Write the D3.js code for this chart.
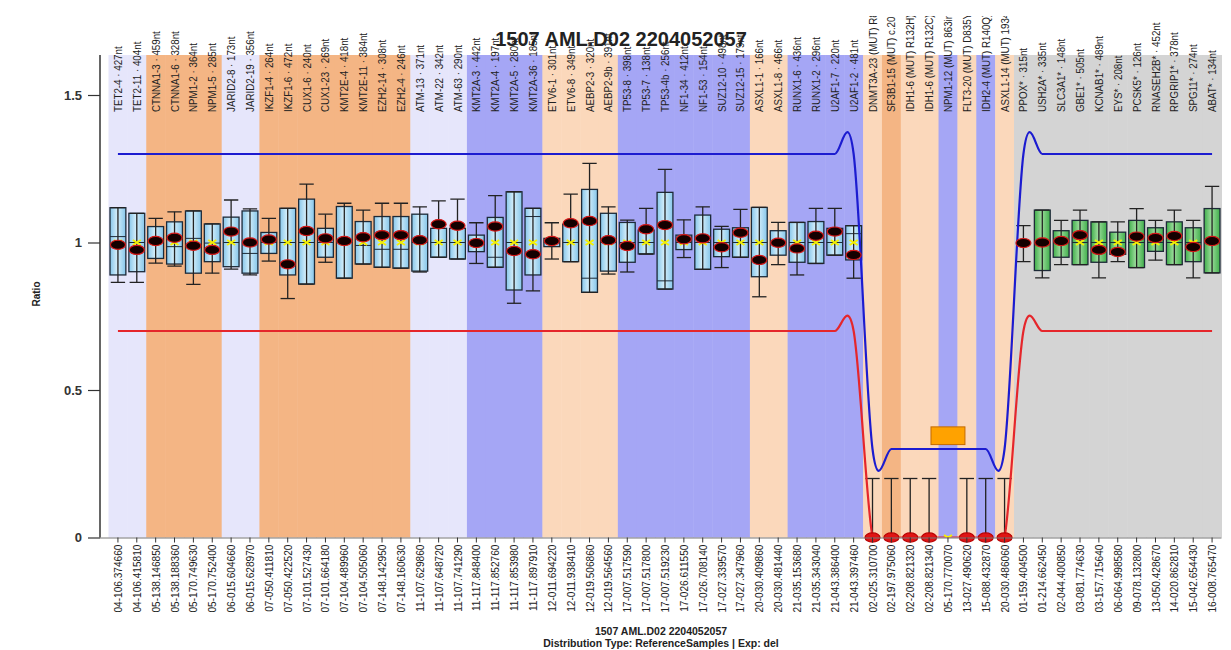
<!DOCTYPE html>
<html>
<head>
<meta charset="utf-8">
<script src="https://cdn.jsdelivr.net/npm/d3@7"></script>
<style>
  html, body { margin: 0; padding: 0; background: #fff; }
  svg { display: block; font-family: "Liberation Sans", Arial, sans-serif; }
</style>
</head>
<body>
<svg id="chart" width="1231" height="650"></svg>
<script>
// Probe positions (chromosome-position), one per amplicon
const categories = [
  "04-106.374660","04-106.415810","05-138.146850","05-138.188360","05-170.749630","05-170.752400",
  "06-015.604660","06-015.628970","07-050.411810","07-050.422520","07-101.527430","07-101.664180",
  "07-104.489960","07-104.505060","07-148.142950","07-148.160630","11-107.629860","11-107.648720",
  "11-107.741290","11-117.848400","11-117.852760","11-117.853980","11-117.897910","12-011.694220",
  "12-011.938410","12-019.506860","12-019.564560","17-007.517590","17-007.517800","17-007.519230",
  "17-026.611550","17-026.708140","17-027.339570","17-027.347960","20-030.409860","20-030.481440",
  "21-035.153680","21-035.343040","21-043.386400","21-043.397460","02-025.310700","02-197.975060",
  "02-208.821320","02-208.821340","05-170.770070","13-027.490620","15-088.432870","20-030.486060",
  "01-159.404500","01-214.662450","02-044.400850","03-081.774630","03-157.715640","06-064.998580",
  "09-078.132800","13-050.428670","14-020.862810","15-042.654430","16-008.765470"
];

// Probe names shown above the plot
const probeNames = [
  "TET2-4 · 427nt","TET2-11 · 404nt","CTNNA1-3 · 459nt","CTNNA1-6 · 328nt","NPM1-2 · 364nt","NPM1-5 · 285nt",
  "JARID2-8 · 173nt","JARID2-19 · 356nt","IKZF1-4 · 264nt","IKZF1-6 · 472nt","CUX1-6 · 240nt","CUX1-23 · 269nt",
  "KMT2E-4 · 418nt","KMT2E-11 · 384nt","EZH2-14 · 308nt","EZH2-4 · 246nt","ATM-13 · 371nt","ATM-22 · 342nt",
  "ATM-63 · 290nt","KMT2A-3 · 442nt","KMT2A-4 · 197nt","KMT2A-5 · 280nt","KMT2A-36 · 185nt","ETV6-1 · 301nt",
  "ETV6-8 · 349nt","AEBP2-3 · 320nt","AEBP2-9b · 391nt","TP53-8 · 398nt","TP53-7 · 138nt","TP53-4b · 256nt",
  "NF1-34 · 412nt","NF1-53 · 154nt","SUZ12-10 · 498nt","SUZ12-15 · 179nt","ASXL1-1 · 166nt","ASXL1-8 · 466nt",
  "RUNX1-6 · 436nt","RUNX1-2 · 296nt","U2AF1-7 · 220nt","U2AF1-2 · 481nt","DNMT3A-23 (MUT) R88","SF3B1-15 (MUT) c.2098",
  "IDH1-6 (MUT) R132H) -","IDH1-6 (MUT) R132C) -","NPM1-12 (MUT) 863ins","FLT3-20 (MUT) D835Y)","IDH2-4 (MUT) R140Q) -","ASXL1-14 (MUT) 1934d",
  "PPOX* · 315nt","USH2A* · 335nt","SLC3A1* · 148nt","GBE1* · 505nt","KCNAB1* · 489nt","EYS* · 208nt",
  "PCSK5* · 126nt","RNASEH2B* · 452nt","RPGRIP1* · 378nt","SPG11* · 274nt","ABAT* · 134nt"
];

// Background group of each probe
const bandGroup = [
  "lav","lav","org","org","org","org","lav","lav","org","org","org","org","org","org","org","org",
  "lav","lav","lav","blu","blu","blu","blu","pch","pch","pch","pch","blu","blu","blu","blu","blu","blu","blu",
  "pch","pch","blu","blu","blu","blu","pch","org","pch","pch","blu","pch","blu","pch",
  "gry","gry","gry","gry","gry","gry","gry","gry","gry","gry","gry"
];

// Reference sample distribution per probe (null = no box)
const whiskerLow = [
  0.865,0.865,0.93,0.92,0.858,0.896,0.91,0.89,0.937,0.81,0.859,0.933,0.879,0.927,0.916,0.913,
  0.90,0.95,0.944,0.929,0.916,0.794,0.836,0.944,0.935,0.831,0.893,0.90,0.961,0.842,0.949,0.909,0.915,0.95,
  0.816,0.925,0.89,0.929,0.957,0.879,0,0,0,0,null,0,0,0,
  0.935,0.88,0.925,0.925,0.88,0.935,0.915,0.94,0.925,0.88,0.897
];
const boxLow = [
  0.89,0.901,0.946,0.927,0.896,0.935,0.918,0.896,0.963,0.89,0.859,0.95,0.879,0.927,0.916,0.913,
  0.903,0.95,0.944,0.969,0.916,0.839,0.89,0.986,0.935,0.831,0.903,0.933,0.961,0.842,0.976,0.909,0.952,0.95,
  0.884,0.957,0.933,0.929,0.957,0.941,null,null,null,null,null,null,null,null,
  null,0.905,0.95,0.925,0.933,0.96,0.915,0.97,0.925,0.935,0.897
];
const boxMedian = [
  1.02,1.0,1.01,0.986,1.014,0.998,1.0,0.963,1.0,1.0,1.0,1.0,1.0,0.99,0.977,0.977,
  1.0,1.0,1.0,1.0,0.95,1.0,1.088,1.0,1.0,0.879,1.0,1.0,1.0,0.87,1.0,1.0,1.0,1.0,
  1.0,1.0,1.0,1.0,1.0,1.03,null,null,null,null,null,null,null,null,
  null,1.0,1.0,1.0,1.0,1.0,1.0,1.0,1.0,1.0,1.0
];
const boxHigh = [
  1.118,1.099,1.054,1.07,1.107,1.063,1.086,1.107,1.034,1.116,1.147,1.048,1.122,1.071,1.088,1.088,
  1.096,1.048,1.048,1.025,1.085,1.172,1.116,1.014,1.062,1.18,1.099,1.068,1.042,1.17,1.025,1.093,1.045,1.05,
  1.119,1.04,1.068,1.071,1.048,1.057,null,null,null,null,null,null,null,null,
  null,1.11,1.04,1.075,1.07,1.035,1.075,1.05,1.07,1.05,1.115
];
const whiskerHigh = [
  1.118,1.099,1.082,1.104,1.107,1.063,1.144,1.114,1.082,1.116,1.198,1.096,1.133,1.11,1.133,1.133,
  1.121,1.141,1.147,1.067,1.159,1.172,1.116,1.067,1.164,1.268,1.121,1.076,1.116,1.248,1.077,1.121,1.055,1.112,
  1.119,1.068,1.068,1.116,1.116,1.057,0.2,0.2,0.2,0.2,null,0.2,0.2,0.2,
  1.057,1.11,1.075,1.11,1.07,1.07,1.115,1.075,1.11,1.075,1.19
];
// Mean of the reference samples
const refMean = [
  1,1,1,1,1,1,1,1,1,1,1,1,1,1,1,1,1,1,1,1,1,1,1,1,1,1,1,1,1,1,1,1,1,1,1,1,1,1,1,1,
  0,0,0,0,0,0,0,0,
  1,1,1,1,1,1,1,1,1,1,1
];
// Ratio of the tested sample (null = not called)
const sampleRatio = [
  0.992,0.975,1.005,1.016,0.989,0.975,1.037,1.0,1.01,0.926,1.039,1.014,1.005,1.018,1.025,1.025,
  1.008,1.062,1.057,0.998,1.054,0.971,0.96,1.005,1.065,1.073,1.008,0.988,1.045,1.059,1.011,1.014,0.984,1.033,
  0.941,0.999,0.98,1.023,1.037,0.958,0,0,0,0,null,0,0,0,
  0.998,1.0,1.005,1.025,0.975,0.968,1.02,1.015,1.022,0.985,1.005
];
const isMutationProbe = categories.map((c, i) => i >= 40 && i <= 47);
const isReferenceProbe = categories.map((c, i) => i >= 48);

// Arbitration limits per probe
const upperLimit = categories.map((c, i) => isMutationProbe[i] ? 0.3 : 1.3);
const lowerLimit = categories.map((c, i) => isMutationProbe[i] ? 0 : 0.7);

// Highlighted range for the NPM1 insertion probe
const highlightProbe = ["05-170.770070"];
const highlightLow = [0.315];
const highlightHigh = [0.375];

const yTicks = [0, 0.5, 1, 1.5];

const bandColors = { lav: "#e6e6fb", org: "#f4b584", blu: "#a5a6f5", pch: "#fbd8bb", gry: "#d4d4d4" };

const svg = d3.select("#chart");
const plotLeft = 108.5, plotRight = 1221.5, plotTop = 55, plotBottom = 537.5, axisX = 100;
const labelTop = 16;

const x = d3.scaleBand().domain(categories).range([plotLeft, plotRight]).padding(0);
const y = d3.scaleLinear().domain([0, 1.5]).range([plotBottom, 95]);
const bw = x.bandwidth();
const cx = d => x(d) + bw / 2;

const defs = svg.append("defs");
defs.append("clipPath").attr("id", "plotClip").append("rect")
  .attr("x", plotLeft).attr("y", plotTop).attr("width", plotRight - plotLeft).attr("height", plotBottom - plotTop);
defs.append("clipPath").attr("id", "labelClip").append("rect")
  .attr("x", plotLeft).attr("y", labelTop).attr("width", plotRight - plotLeft).attr("height", 110);

function hGrad(id, edge, mid) {
  const g = defs.append("linearGradient").attr("id", id).attr("x1", "0").attr("x2", "1").attr("y1", "0").attr("y2", "0");
  g.append("stop").attr("offset", "0%").attr("stop-color", edge);
  g.append("stop").attr("offset", "45%").attr("stop-color", mid);
  g.append("stop").attr("offset", "100%").attr("stop-color", edge);
}
hGrad("boxBlue", "#86c6ea", "#d4eefa");
hGrad("boxGreen", "#3fae4a", "#9ddc9c");

const idx = categories.map((c, i) => i);

// Background bands
svg.append("g").selectAll("rect").data(idx).join("rect")
  .attr("x", i => x(categories[i]))
  .attr("y", plotTop)
  .attr("width", bw + 0.5)
  .attr("height", plotBottom - plotTop)
  .attr("fill", i => bandColors[bandGroup[i]]);

// Probe names along the top
svg.append("g").attr("clip-path", "url(#labelClip)")
  .selectAll("text").data(idx).join("text")
  .attr("transform", i => `translate(${cx(categories[i])},112) rotate(-90) scale(0.85,1)`)
  .attr("dy", "0.35em")
  .attr("font-size", 11.5)
  .attr("fill", "#222")
  .attr("text-anchor", "start")
  .text(i => probeNames[i]);

const plot = svg.append("g").attr("clip-path", "url(#plotClip)");

// Reference distribution boxes
const boxW = bw * 0.84, capW = bw * 0.76;
plot.append("g").selectAll("rect").data(idx.filter(i => boxLow[i] !== null)).join("rect")
  .attr("x", i => cx(categories[i]) - boxW / 2)
  .attr("y", i => y(boxHigh[i]))
  .attr("width", boxW)
  .attr("height", i => y(boxLow[i]) - y(boxHigh[i]))
  .attr("fill", i => isReferenceProbe[i] ? "url(#boxGreen)" : "url(#boxBlue)")
  .attr("stroke", "#1d2a38")
  .attr("stroke-width", 1.3);

plot.append("g").selectAll("line").data(idx.filter(i => boxMedian[i] !== null)).join("line")
  .attr("x1", i => cx(categories[i]) - boxW / 2)
  .attr("x2", i => cx(categories[i]) + boxW / 2)
  .attr("y1", i => y(boxMedian[i]))
  .attr("y2", i => y(boxMedian[i]))
  .attr("stroke", "#1d2a38").attr("stroke-width", 1);

// Whiskers
const wIdx = idx.filter(i => whiskerLow[i] !== null);
const whisk = plot.append("g").attr("stroke", "#222").attr("stroke-width", 1.3);
whisk.selectAll("line.stem").data(wIdx).join("line").attr("class", "stem")
  .attr("x1", i => cx(categories[i])).attr("x2", i => cx(categories[i]))
  .attr("y1", i => y(whiskerLow[i])).attr("y2", i => y(whiskerHigh[i]));
whisk.selectAll("line.capHi").data(wIdx).join("line").attr("class", "capHi")
  .attr("x1", i => cx(categories[i]) - capW / 2).attr("x2", i => cx(categories[i]) + capW / 2)
  .attr("y1", i => y(whiskerHigh[i])).attr("y2", i => y(whiskerHigh[i]));
whisk.selectAll("line.capLo").data(wIdx).join("line").attr("class", "capLo")
  .attr("x1", i => cx(categories[i]) - capW / 2).attr("x2", i => cx(categories[i]) + capW / 2)
  .attr("y1", i => y(whiskerLow[i])).attr("y2", i => y(whiskerLow[i]));

// Limit curves
const limitLine = vals => d3.line()
  .x((v, i) => cx(categories[i]))
  .y(v => y(v))
  .curve(d3.curveCardinal.tension(0))(vals);
plot.append("path").attr("d", limitLine(upperLimit))
  .attr("fill", "none").attr("stroke", "#1c1cd0").attr("stroke-width", 2.2);
plot.append("path").attr("d", limitLine(lowerLimit))
  .attr("fill", "none").attr("stroke", "#e5262b").attr("stroke-width", 2.2);

// Highlighted range
plot.append("g").selectAll("rect").data(highlightProbe.map((p, k) => k)).join("rect")
  .attr("x", k => cx(highlightProbe[k]) - bw * 0.9)
  .attr("y", k => y(highlightHigh[k]))
  .attr("width", bw * 1.8)
  .attr("height", k => y(highlightLow[k]) - y(highlightHigh[k]))
  .attr("fill", "#ffa200").attr("stroke", "#c46a00").attr("stroke-width", 1);

// Reference means
plot.append("g").selectAll("path").data(idx).join("path")
  .attr("transform", i => `translate(${cx(categories[i])},${y(refMean[i])})`)
  .attr("d", "M-4,-2.5L4,2.5M-4,2.5L4,-2.5")
  .attr("stroke", "#f5f000").attr("stroke-width", 2);

// Sample ratios
svg.append("g").selectAll("ellipse").data(idx.filter(i => sampleRatio[i] !== null)).join("ellipse")
  .attr("cx", i => cx(categories[i]))
  .attr("cy", i => y(sampleRatio[i]))
  .attr("rx", 7.5).attr("ry", 4.6)
  .attr("fill", i => isMutationProbe[i] ? "#e01414" : "#140000")
  .attr("stroke", i => isMutationProbe[i] ? "#b80000" : "#d41818")
  .attr("stroke-width", 1.2);

// X axis
const xAxis = svg.append("g").attr("transform", `translate(0,${plotBottom})`)
  .call(d3.axisBottom(x).tickSize(5).tickSizeOuter(0));
xAxis.select(".domain").attr("stroke", "#777").attr("d", `M${axisX},0.5H${plotRight}`);
xAxis.selectAll(".tick line").attr("stroke", "#333");
xAxis.selectAll(".tick text")
  .attr("x", -8).attr("y", 0).attr("dy", "0.35em")
  .attr("transform", "rotate(-90) scale(0.88,1)")
  .attr("text-anchor", "end")
  .attr("font-size", 11.5)
  .attr("font-family", "Liberation Sans, Arial, sans-serif")
  .attr("fill", "#222");

// Y axis
const yAxis = svg.append("g").attr("transform", `translate(${axisX},0)`)
  .call(d3.axisLeft(y).tickValues(yTicks).tickFormat(d3.format("")).tickSize(12).tickPadding(6));
yAxis.select(".domain").remove();
yAxis.append("line").attr("x1", 0).attr("x2", 0).attr("y1", plotTop).attr("y2", plotBottom)
  .attr("stroke", "#333").attr("stroke-width", 1.5);
yAxis.selectAll(".tick line").attr("stroke", "#333").attr("stroke-width", 1.2);
yAxis.selectAll(".tick text")
  .attr("font-size", 13).attr("font-weight", "bold")
  .attr("font-family", "Liberation Sans, Arial, sans-serif").attr("fill", "#333");

svg.append("text")
  .attr("transform", "translate(36,294) rotate(-90)")
  .attr("text-anchor", "middle").attr("dy", "0.35em")
  .attr("font-size", 10).attr("font-weight", "bold").attr("fill", "#222")
  .text("Ratio");

// Titles
svg.append("text").attr("x", 621).attr("y", 46).attr("text-anchor", "middle")
  .attr("font-size", 20).attr("font-weight", "bold").attr("fill", "#222")
  .text("1507 AML.D02 2204052057");
svg.append("text").attr("x", 661).attr("y", 635).attr("text-anchor", "middle")
  .attr("font-size", 10.5).attr("font-weight", "bold").attr("fill", "#222")
  .text("1507 AML.D02 2204052057");
svg.append("text").attr("x", 661).attr("y", 647).attr("text-anchor", "middle")
  .attr("font-size", 10.5).attr("font-weight", "bold").attr("fill", "#222")
  .text("Distribution Type: ReferenceSamples | Exp: del");
</script>
</body>
</html>
